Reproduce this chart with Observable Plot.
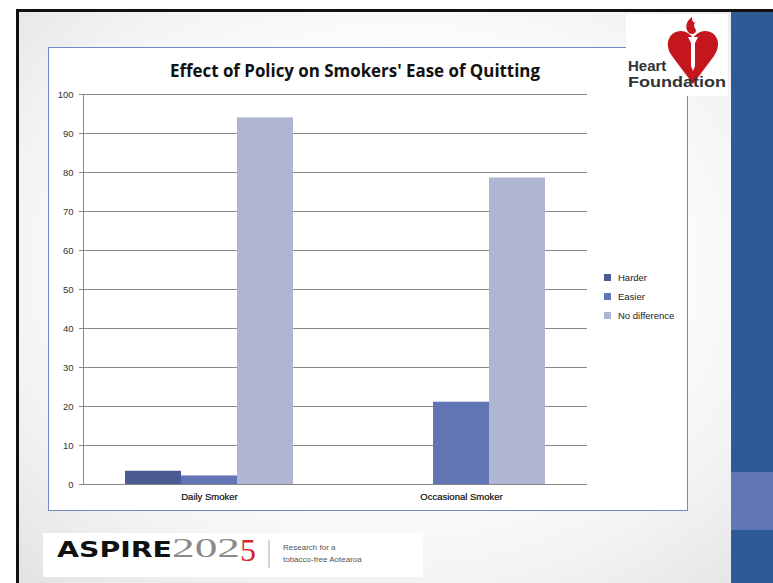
<!DOCTYPE html>
<html><head><meta charset="utf-8">
<script src="https://cdn.jsdelivr.net/npm/d3@7"></script>
<script src="https://cdn.jsdelivr.net/npm/@observablehq/plot@0.6"></script>
<style>
body{margin:0;background:#fff;}
#slide{position:relative;width:773px;height:583px;overflow:hidden;background:#fff;font-family:"Liberation Sans",Arial,sans-serif;}
#bg{position:absolute;left:16px;top:9px;right:0;bottom:0;border-left:3px solid #111;border-top:3px solid #111;
  background:radial-gradient(ellipse 70% 75% at 50% 45%, #ffffff 45%, #f3f3f3 75%, #e4e4e4 100%);}
#band{position:absolute;left:731px;top:12px;width:42px;bottom:0;background:#2e5a96;}
#band2{position:absolute;left:731px;top:472px;width:42px;height:58px;background:#6176b5;}
#frame{position:absolute;left:48px;top:47px;width:638px;height:462px;border:1.5px solid #7587c6;background:#fff;}
#chart{position:absolute;left:49px;top:48px;}
#title{position:absolute;left:100px;width:510px;top:59px;text-align:center;font-family:"Open Sans",sans-serif;font-weight:700;font-size:16.9px;color:#111;}
#legend{position:absolute;left:604px;top:268px;font-size:9.5px;color:#222;}
#legend div{height:19px;display:flex;align-items:center;}
#legend span.sw{display:inline-block;width:7px;height:7px;margin-right:7px;}
#hf{position:absolute;left:626px;top:14px;width:102px;height:82px;background:#fff;}
#aspire{position:absolute;left:43px;top:533px;width:380px;height:44px;background:#fff;}
.fxax text{font-weight:normal;}
</style></head><body>
<div id="slide">
 <div id="bg"></div>
 <div id="band"></div><div id="band2"></div>
 <div id="frame"></div>
 <div id="chart"></div>
 <div id="title">Effect of Policy on Smokers' Ease of Quitting</div>
 <div id="legend"></div>
 <div id="hf">
  <svg width="102" height="82" viewBox="0 0 102 82">
   <path d="M66 3 C59 8 59 15 63 19 C66 21 70 20 70 16 C69 14 67 12 69 8 C67 9 66 7 66 3 Z" fill="#c4161c"/>
   <path d="M67 70 L46 42 C37 29 44 17 55 17 C60 17 64 20 67 24 C70 20 74 17 79 17 C90 17 97 29 88 42 Z" fill="#c4161c"/>
   <path d="M62 23 L72 23 L69 29 L69 52 L67 57 L65 52 L65 29 Z" fill="#fff"/>
   <text x="2" y="57" font-family="Liberation Sans, Arial" font-weight="bold" font-size="15" fill="#333">Heart</text>
   <text x="2" y="73" font-family="Liberation Sans, Arial" font-weight="bold" font-size="15" fill="#333" textLength="98" lengthAdjust="spacingAndGlyphs">Foundation</text>
  </svg>
 </div>
 <div id="aspire">
  <svg width="380" height="44" viewBox="0 0 380 44">
   <text x="14" y="24" font-family="DejaVu Sans, Arial" font-weight="bold" font-size="22" fill="#111" textLength="115" lengthAdjust="spacingAndGlyphs">ASPIRE</text>
   <text x="129" y="24" font-family="Liberation Serif, serif" font-size="27" fill="#8a8a8a" textLength="68" lengthAdjust="spacingAndGlyphs">202</text>
   <text x="197" y="28" font-family="Liberation Serif, serif" font-size="32" fill="#d7262e">5</text>
   <line x1="226" y1="7" x2="226" y2="35" stroke="#aaa" stroke-width="1"/>
   <text x="240" y="17" font-family="Liberation Sans, Arial" font-size="8" fill="#555">Research for a</text>
   <text x="240" y="29" font-family="Liberation Sans, Arial" font-size="8" fill="#555">tobacco-free Aotearoa</text>
  </svg>
 </div>
</div>
<script>
const categories = ["Daily Smoker", "Occasional Smoker"];
const series = ["Harder", "Easier", "No difference"];
const harder = [3.4, 0];
const easier = [2.2, 21.1];
const noDifference = [94.0, 78.6];
const yTicks = [0, 10, 20, 30, 40, 50, 60, 70, 80, 90, 100];
const colors = ["#4b5c92", "#6175b4", "#aeb6d3"];

const valuesBySeries = [harder, easier, noDifference];
const data = categories.flatMap((c, i) => series.map((s, j) => ({category: c, series: s, value: valuesBySeries[j][i]})));

const chart = Plot.plot({
  width: 639, height: 463,
  marginLeft: 33, marginTop: 46, marginRight: 101, marginBottom: 27,
  style: {background: "transparent", fontFamily: "Liberation Sans, Arial, sans-serif", fontSize: "9.5px", color: "#333"},
  fx: {domain: categories, padding: 0, label: null, axis: "bottom"},
  x: {domain: series, paddingInner: 0, paddingOuter: 0.75, axis: null},
  y: {domain: [0, 100], label: null},
  color: {domain: series, range: colors},
  marks: [
    Plot.ruleY(yTicks, {stroke: "#8a8a8a", strokeWidth: 1, strokeOpacity: 1}),
    Plot.barY(data, {fx: "category", x: "series", y: "value", fill: "series", inset: 0}),
    Plot.frame({anchor: "left", facetAnchor: "left", stroke: "#8a8a8a", strokeOpacity: 1}),
    Plot.axisY({ticks: yTicks, tickSize: 4, tickPadding: 6, label: null, stroke: "#8a8a8a", strokeOpacity: 1}),
    Plot.axisFx({anchor: "bottom", tickSize: 0, tickPadding: 9, label: null, className: "fxax", fill: "#333"})
  ]
});
document.getElementById("chart").appendChild(chart);

const legend = document.getElementById("legend");
series.forEach((s, i) => {
  const row = document.createElement("div");
  const sw = document.createElement("span");
  sw.className = "sw"; sw.style.background = colors[i];
  row.appendChild(sw);
  row.appendChild(document.createTextNode(s));
  legend.appendChild(row);
});
</script>
</body></html>
